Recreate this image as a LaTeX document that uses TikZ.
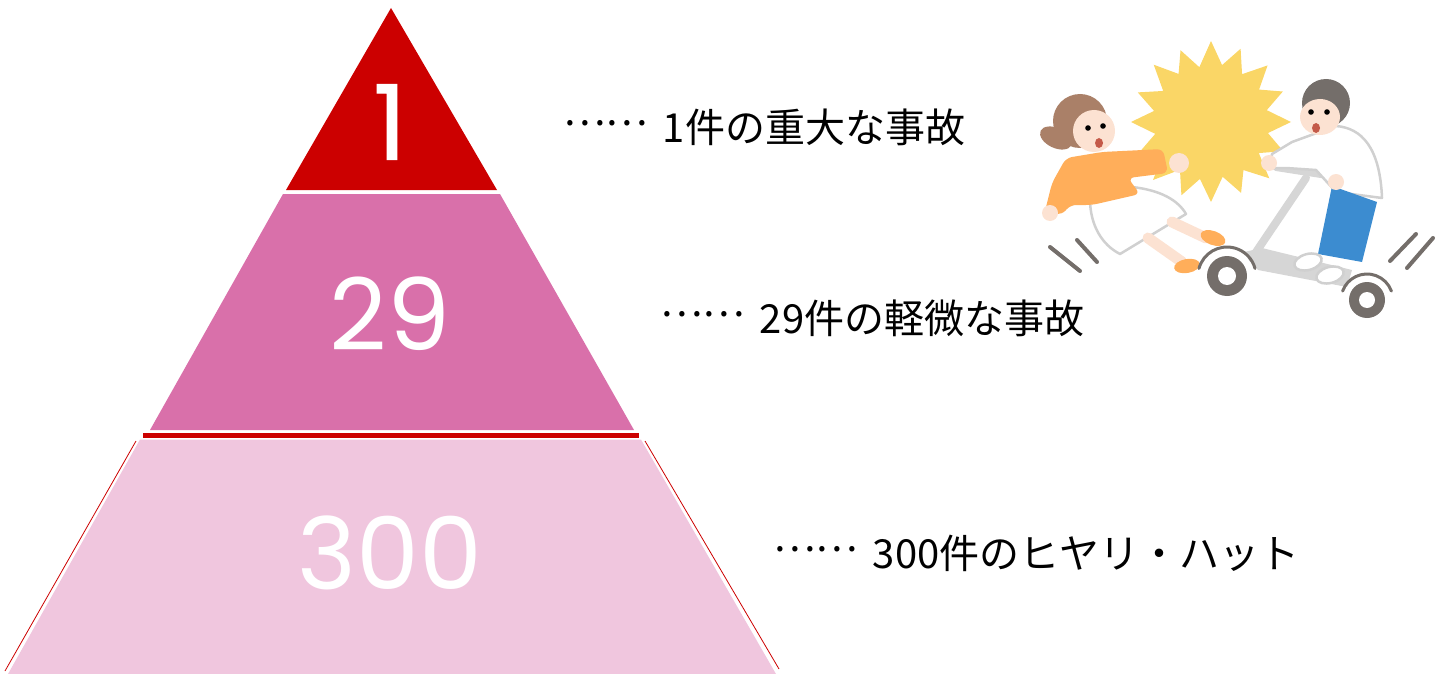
\documentclass[tikz,border=0pt]{standalone}
\usepackage{fontspec}
\newfontfamily\jpfont{Noto Sans CJK JP}
\newfontfamily\numfont{Poppins}
\newcommand{\leaderdots}{\raisebox{0.42em}{……}\hspace{0.15em}}
\definecolor{topred}{RGB}{204,0,0}
\definecolor{midpink}{RGB}{217,112,170}
\definecolor{lowpink}{RGB}{240,198,222}
\definecolor{burstyellow}{RGB}{250,214,102}
\definecolor{skin}{RGB}{252,226,210}
\definecolor{hairbrown}{RGB}{170,128,104}
\definecolor{sweater}{RGB}{255,174,90}
\definecolor{outline}{RGB}{208,208,208}
\definecolor{darkgray}{RGB}{116,110,106}
\definecolor{pants}{RGB}{60,140,208}
\definecolor{scooter}{RGB}{214,214,214}
\begin{document}
\begin{tikzpicture}[x=1pt,y=-1pt,
  num/.style={text=white,inner sep=0pt,font=\numfont\fontsize{100}{100}\selectfont},
  lbl/.style={anchor=west,inner sep=0pt,font=\jpfont\fontsize{40}{40}\selectfont},
  whiteshape/.style={fill=white,draw=outline,line width=2.5pt,line join=round},
  motion/.style={draw=darkgray,line width=4pt,line cap=round}]
\useasboundingbox (0,0) rectangle (1445,674);

% pyramid tiers
\fill[topred] (391,8) -- (497,190) -- (286,190) -- cycle;
\fill[midpink] (283,194) -- (500,194) -- (634,430) -- (150,430) -- cycle;
\fill[topred] (143,432.5) rectangle (639,437.5);
\fill[lowpink] (140,439.5) -- (641,439.5) -- (776,674) -- (8,674) -- cycle;
\draw[topred,line width=0.8pt] (136,441) -- (5,671);
\draw[topred,line width=0.8pt] (645,441) -- (779,669);

% tier numbers
\node[num,font=\numfont\addfontfeature{FakeBold=1.2}\fontsize{104}{104}\selectfont] (n1) at (390,122) {1};
\node[num] (n29) at (390,314) {29};
\node[num] (n300) at (390,553) {300};

% tier labels
\node[lbl] (l1) at (563,127) {\leaderdots\ 1件の重大な事故};
\node[lbl] (l29) at (660,318) {\leaderdots\ 29件の軽微な事故};
\node[lbl] (l300) at (773,553) {\leaderdots\ 300件のヒヤリ・ハット};

% collision burst
\begin{scope}[shift={(1211,122)}]
  \fill[burstyellow] (0:80)
    \foreach \a/\r in {11/58,22/78,33/57,44/81,56/58,67/77,78/56,90/80,101/58,
                       112/79,123/57,135/82,146/58,157/78,168/57,180/80,191/58,
                       202/79,213/57,225/81,236/58,247/78,258/56,270/81,281/58,
                       292/79,303/57,315/80,326/58,337/78,348/57} { -- (\a:\r) } -- cycle;
\end{scope}

% woman: skirt, legs, shoes
\draw[whiteshape] (1090,199) .. controls (1090,225) and (1102,245) .. (1120,254)
  -- (1186,214) .. controls (1178,200) and (1160,190) .. (1132,187) -- cycle;
\draw[skin,line width=11pt,line cap=round] (1148,238) -- (1182,262);
\draw[skin,line width=11pt,line cap=round] (1172,222) -- (1206,238);
\fill[sweater,rotate around={-20:(1213,238)}] (1213,238) ellipse (13 and 7);
\fill[sweater,rotate around={10:(1187,266)}] (1187,266) ellipse (13 and 7);

% woman: sweater and hands
\fill[sweater,rounded corners=6pt] (1066,158) -- (1102,152) -- (1163,149) -- (1168,173)
  -- (1128,178) -- (1140,194) -- (1092,205) -- (1070,205) -- (1062,215) -- (1045,211)
  -- (1052,183) -- cycle;
\fill[skin] (1179,163) circle (10);
\fill[skin] (1050,213) circle (8);

% woman: head
\fill[hairbrown] (1080,121) circle (27);
\fill[hairbrown,rotate around={-25:(1056,138)}] (1056,138) ellipse (17 and 10);
\fill[skin] (1094,131) circle (21);
\fill[black] (1088,128) circle (2.8);
\fill[black] (1103,126) circle (2.8);
\fill[hairbrown!70!red] (1099,143) ellipse (4 and 5);

% scooter frame
\fill[scooter] (1244,252) -- (1258,270) -- (1347,287) -- (1352,270) -- (1262,248) -- cycle;
\draw[scooter,line width=8pt,line cap=round] (1306,178) -- (1252,258);
\draw[scooter,line width=6pt,line cap=round] (1276,168) -- (1340,178);

% man: shirt
\draw[whiteshape] (1292,142) -- (1336,126) .. controls (1362,128) and (1380,148) .. (1382,198)
  -- (1336,192) -- (1316,170) -- (1286,168) -- (1270,168) -- (1272,154) -- cycle;

% man: pants, shoes, hands
\fill[pants] (1332,186) -- (1377,202) -- (1362,262) -- (1318,254) -- cycle;
\draw[whiteshape,rotate around={15:(1308,262)}] (1308,262) ellipse (14 and 8);
\draw[whiteshape,rotate around={15:(1330,275)}] (1330,275) ellipse (14 and 8);
\fill[skin] (1269,163) circle (8);
\fill[skin] (1336,182) circle (8);

% man: head
\fill[darkgray] (1326,103) circle (24);
\fill[skin] (1320,117) ellipse (20 and 18);
\fill[black] (1311,112) circle (2.8);
\fill[black] (1327,112) circle (2.8);
\fill[hairbrown!70!red] (1316,128) ellipse (4 and 5);

% wheels and fenders
\fill[darkgray] (1227,276) circle (20);
\fill[white] (1227,276) circle (9);
\draw[darkgray,line width=3pt,line cap=round] (1227,276) ++(195:29) arc (195:345:29);
\fill[darkgray] (1367,300) circle (18);
\fill[white] (1367,300) circle (8);
\draw[darkgray,line width=3pt,line cap=round] (1367,300) ++(200:26) arc (200:340:26);

% motion strokes
\draw[motion] (1050,247) -- (1080,271);
\draw[motion] (1077,240) -- (1097,262);
\draw[motion] (1390,261) -- (1416,234);
\draw[motion] (1407,268) -- (1433,238);
\end{tikzpicture}
\end{document}
